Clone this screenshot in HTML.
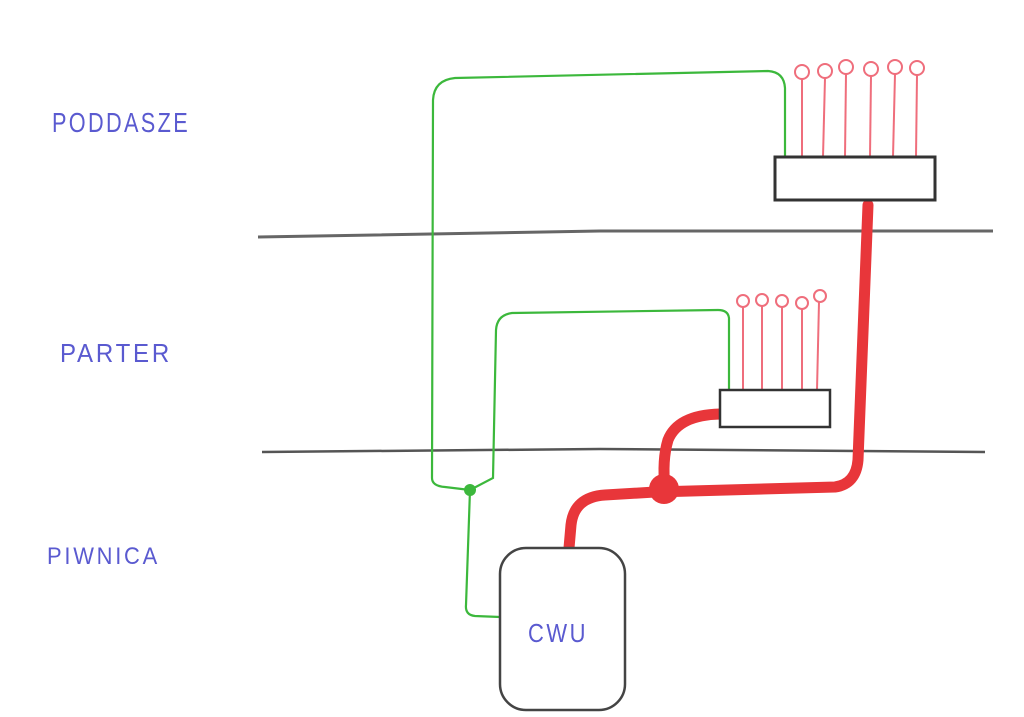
<!DOCTYPE html>
<html><head><meta charset="utf-8"><style>
html,body{margin:0;padding:0;background:#fff;}
svg{display:block}
text{font-family:"Liberation Sans",sans-serif;fill:#5a5ad0;letter-spacing:3px}
</style></head><body>
<svg width="1024" height="717" viewBox="0 0 1024 717" xmlns="http://www.w3.org/2000/svg">
<rect width="1024" height="717" fill="#fff"/>
<text x="52" y="132" font-size="28" textLength="138" lengthAdjust="spacingAndGlyphs">PODDASZE</text>
<text x="60" y="362" font-size="26" textLength="112" lengthAdjust="spacingAndGlyphs">PARTER</text>
<text x="47" y="564" font-size="24" textLength="113" lengthAdjust="spacingAndGlyphs">PIWNICA</text>
<path d="M258 237 L600 231 L993 231" stroke="#666" stroke-width="3" fill="none"/>
<path d="M262 452 L600 449 L985 452" stroke="#555" stroke-width="2.5" fill="none"/>
<g stroke="#ef6e7c" stroke-width="2" fill="none">
<line x1="802" y1="79" x2="802" y2="157"/><circle cx="802" cy="72" r="7"/>
<line x1="825" y1="78" x2="823" y2="157"/><circle cx="825" cy="71" r="7"/>
<line x1="846" y1="74" x2="845" y2="157"/><circle cx="846" cy="67" r="7"/>
<line x1="871" y1="76" x2="870" y2="157"/><circle cx="871" cy="69" r="7"/>
<line x1="895" y1="74" x2="893" y2="157"/><circle cx="895" cy="67" r="7"/>
<line x1="917" y1="75" x2="916" y2="157"/><circle cx="917" cy="68" r="7"/>
<line x1="743" y1="307" x2="743" y2="390"/><circle cx="743" cy="301" r="6"/>
<line x1="762" y1="306" x2="762" y2="390"/><circle cx="762" cy="300" r="6"/>
<line x1="782" y1="307" x2="782" y2="390"/><circle cx="782" cy="301" r="6"/>
<line x1="802" y1="309" x2="802" y2="390"/><circle cx="802" cy="303" r="6"/>
<line x1="819" y1="302" x2="817" y2="390"/><circle cx="820" cy="296" r="6"/>
</g>
<g stroke="#3cb83c" stroke-width="2.2" fill="none">
<path d="M785 157 L785 88 Q784 72 768 71 L455 78 Q434 80 433 100 L432 478 Q432 486 445 487 L470 490"/>
<path d="M729 390 L729 318 Q728 310 718 310 L512 313 Q497 315 496 330 L493 478 L470 490"/>
<path d="M470 490 L466 605 Q465 615 475 616 L500 617"/>
</g>
<circle cx="470" cy="490" r="6" fill="#3cb83c"/>
<g stroke="#e8363a" stroke-width="11" fill="none" stroke-linecap="round">
<path d="M569 548 L571 525 Q574 497 605 495 L655 492 L835 487 Q856 484 858 460 L868 205"/>
<path d="M665 488 Q662 460 668 440 Q678 415 720 414"/>
</g>
<circle cx="664" cy="489" r="15" fill="#e8363a"/>
<rect x="775" y="157" width="160" height="43" fill="#fff" stroke="#333" stroke-width="3"/>
<rect x="720" y="390" width="110" height="37" fill="#fff" stroke="#333" stroke-width="2.5"/>
<rect x="500" y="548" width="125" height="162" rx="26" fill="#fff" stroke="#444" stroke-width="2.5"/>
<text x="528" y="642" font-size="26" textLength="60" lengthAdjust="spacingAndGlyphs">CWU</text>
</svg>
</body></html>
